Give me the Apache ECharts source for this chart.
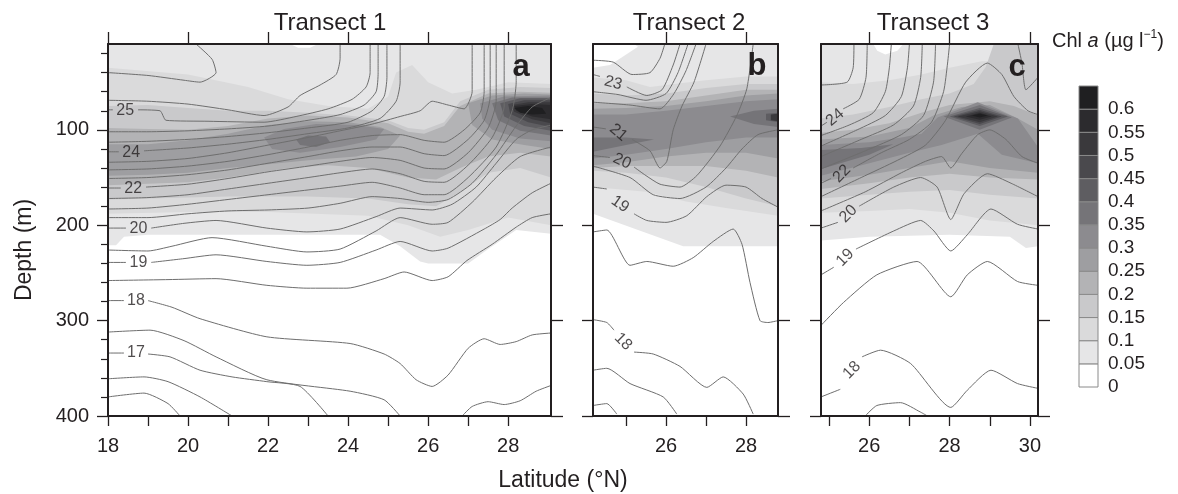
<!DOCTYPE html>
<html><head><meta charset="utf-8">
<script src="https://cdn.jsdelivr.net/npm/echarts/dist/echarts.min.js"></script>
<style>html,body{margin:0;padding:0;background:#fff}#c{width:1178px;height:494px}</style>
</head><body><div id="c"></div>
<script>
// ================= DATA =================
const CHL_LEVELS = [0,0.05,0.1,0.15,0.2,0.25,0.3,0.35,0.4,0.45,0.5,0.55,0.6];
const CHL_LABELS = [0,0.05,0.1,0.15,0.2,0.25,0.3,0.35,0.4,0.45,0.5,0.55,0.6];
const PANEL_TITLES = ['Transect 1','Transect 2','Transect 3'];
const PANEL_LETTERS = ['a','b','c'];
const DEPTH_RANGE = [10,400];
const DEPTH_TICKS = [100,200,300,400];
const DEPTH_MINOR = [20,40,60,80,120,140,160,180,220,240,260,280,320,340,360,380];
const DEPTH_LABELS = [100,200,300,400];
const P1_LAT_RANGE = [18,29.07];
const P2_LAT_RANGE = [24.175,28.8];
const P3_LAT_RANGE = [24.8,30.2];
const P1_XTICKS = [18,19,20,21,22,23,24,25,26,27,28];
const P1_XLABELS = [18,20,22,24,26,28];
const P1_TOPTICKS = [18,20,22,24,26,28];
const P2_XTICKS = [25,26,27,28];
const P2_XLABELS = [26,28];
const P2_TOPTICKS = [26,28];
const P3_XTICKS = [25,26,27,28,29,30];
const P3_XLABELS = [26,28,30];
const P3_TOPTICKS = [26,28,30];

// filled chlorophyll regions: [level (region where Chl >= level), [[lat, depth], ...]]
const P1_FILLS = [
  [0.05,[[18,10],[29.07,10],[29.07,209],[28.2,205],[27.5,225],[27,240],[26,240],[25.8,238],[25.3,222],[24.8,210],[22,210],[19,210],[18.4,212],[18.2,221],[18,221]]],
  [0,[[22.55,10],[23.25,10],[23.05,14],[22.75,14]]],
  [0.1,[[18,35],[20,42],[21.5,55],[22.5,68],[23.5,75],[24.5,78],[25,65],[25.2,40],[25.6,32],[26,50],[26.6,62],[27.2,58],[28,50],[29.07,52],[29.07,200],[28,192],[27,205],[26.3,212],[25.5,200],[24.5,190],[22,186],[20,186],[18,188]]],
  [0.15,[[18,75],[19,74],[20,77],[21,80],[22,80],[23,82],[24,85],[25,90],[25.5,98],[25.9,100],[26.4,92],[26.8,70],[27.5,58],[28.3,55],[29.07,56],[29.07,150],[28.3,140],[27.5,145],[26.8,165],[26.2,180],[25.5,178],[24.5,172],[23,170],[21,170],[19,172],[18,173]]],
  [0.2,[[18,98],[19,99],[20,100],[21,96],[22,88],[23,85],[24,87],[25,93],[25.5,102],[25.9,104],[26.4,96],[26.8,75],[27.5,62],[28.3,60],[29.07,61],[29.07,128],[28.3,124],[27.5,128],[26.8,140],[26.2,152],[25.5,150],[24.5,140],[23.5,137],[22.5,140],[21,150],[20,155],[18,158]]],
  [0.25,[[18,115],[19,115],[20,111],[21,104],[22,95],[23,91],[24,92],[24.8,97],[25.3,106],[25,120],[24.2,128],[23,132],[22,136],[21,140],[20,145],[19,147],[18,148]]],
  [0.25,[[27,72],[27.6,64],[28.4,62],[29.07,63],[29.07,120],[28.4,116],[27.6,110],[27.1,95]]],
  [0.3,[[21.9,108],[22.4,99],[23.2,94],[24.2,95],[24.9,99],[24.7,110],[23.8,118],[22.8,124],[22.1,120]]],
  [0.3,[[27.3,72],[27.9,65],[29.07,64],[29.07,112],[28.3,109],[27.6,100],[27.35,88]]],
  [0.35,[[22.7,110],[23,106],[23.45,107],[23.55,113],[23.2,118],[22.8,116]]],
  [0.35,[[27.6,72],[28.1,66],[29.07,66],[29.07,106],[28.3,101],[27.75,90]]],
  [0.4,[[27.8,72],[28.3,67],[29.07,67],[29.07,101],[28.4,96],[27.9,86]]],
  [0.45,[[28,73],[28.4,69],[29.07,69],[29.07,97],[28.5,92],[28.05,83]]],
  [0.5,[[28.1,74],[28.5,71],[29.07,71],[29.07,93],[28.6,89],[28.15,81]]],
  [0.55,[[28.15,75],[28.6,73],[29.07,74],[29.07,89],[28.6,86],[28.2,80]]],
  [0.6,[[28.15,77],[28.5,75],[28.85,77],[28.95,83],[28.6,84],[28.3,82]]]
];
const P2_FILLS = [
  [0.05,[[24.175,10],[28.8,10],[28.8,222],[26.43,222],[24.175,188]]],
  [0,[[24.175,10],[25.2,10],[25.3,13],[24.9,24],[24.6,32],[24.175,35]]],
  [0.1,[[24.175,45],[25,48],[25.6,55],[26.2,52],[27,48],[28,44],[28.8,44],[28.8,190],[27.5,182],[26.5,175],[25.5,165],[24.175,160]]],
  [0.15,[[24.175,62],[25,64],[26,62],[27,56],[28,52],[28.8,52],[28.8,180],[28,172],[27,160],[26,150],[25,145],[24.175,143]]],
  [0.2,[[24.175,72],[25,72],[26,70],[27,64],[28,58],[28.8,58],[28.8,150],[28,143],[27,138],[26,138],[25,138],[24.175,140]]],
  [0.25,[[24.175,78],[25,77],[26,75],[27,70],[28,64],[28.8,62],[28.8,130],[28,124],[27,124],[26,128],[25,134],[24.175,137]]],
  [0.3,[[24.175,84],[25,84],[26,80],[27,75],[28,70],[28.8,68],[28.8,108],[28,108],[27,113],[26,120],[25,126],[24.175,130]]],
  [0.35,[[24.175,108],[25,108],[25.7,110],[25,116],[24.175,123]]],
  [0.35,[[27.6,86],[28.2,80],[28.8,78],[28.8,97],[28.2,94]]],
  [0.4,[[28.5,83],[28.8,82],[28.8,92],[28.5,90]]],
  [0.5,[[28.62,84],[28.8,83],[28.8,91],[28.62,90]]]
];
const P3_FILLS = [
  [0.05,[[24.8,10],[30.2,10],[30.2,222],[29.9,224],[29.5,212],[28,210],[26,212],[24.8,216]]],
  [0,[[26.1,10],[26.85,10],[26.7,17],[26.4,21],[26.2,17]]],
  [0.1,[[24.8,50],[25.6,52],[26.5,48],[27.3,42],[28,35],[28.8,28],[30.2,28],[30.2,200],[29,195],[28,187],[27,183],[26,185],[24.8,187]]],
  [0.15,[[24.8,88],[25.6,84],[26.5,76],[27.3,68],[28,62],[28.6,52],[28.9,34],[29.1,10],[30.2,10],[30.2,172],[29,168],[28,163],[27,165],[26,168],[24.8,172]]],
  [0.2,[[24.8,103],[25.6,100],[26.5,93],[27.3,82],[28,74],[29,70],[29.6,75],[30.2,85],[30.2,152],[29,150],[28,146],[27,150],[26,156],[24.8,162]]],
  [0.25,[[24.8,110],[26,107],[27,98],[27.6,85],[28.3,76],[29,74],[29.7,88],[30.2,100],[30.2,145],[29,140],[28,133],[27,140],[26,147],[24.8,154]]],
  [0.3,[[24.8,116],[26,113],[26.8,108],[27.3,104],[27.7,87],[28.7,71],[29.7,88],[30.2,118],[30.2,135],[29.3,126],[28.7,104],[27.8,116],[27,124],[26,135],[24.8,148]]],
  [0.35,[[24.8,121],[25.8,119],[26.6,115],[26,126],[24.8,141]]],
  [0.35,[[27.85,86],[28.75,74],[29.55,87],[28.75,100]]],
  [0.4,[[28,86],[28.75,77],[29.45,86],[28.75,96]]],
  [0.45,[[28.1,86],[28.75,79],[29.3,86],[28.75,94]]],
  [0.5,[[28.2,86],[28.75,80.5],[29.2,86],[28.75,92]]],
  [0.55,[[28.4,86],[28.75,82],[29.05,86],[28.75,89.5]]],
  [0.6,[[28.55,85],[28.75,83],[28.95,85],[28.75,87]]]
];

// isotherms: [lat, depth] points, null = gap for the inline label
const P1_ISOTHERMS = [
  [[18,40],[19,43],[19.9,48],[20.3,50],[20.7,40],[20.6,26],[20.2,10]],
  [[18,69],[19,70],[20,73],[21,79],[21.9,85],[22.5,76],[22.8,64],[23.3,53],[23.7,42],[23.8,25],[23.8,10]],
  [[18,79],[18.12,79],null,[18.75,79],[19.3,80],[19.45,90],[20.5,91],[21.9,92],[22.7,86],[23.5,78],[24.1,68],[24.45,55],[24.55,40],[24.55,10]],
  [[18,102],[19,102],[20,101],[21,99],[22,96],[23,90],[23.8,84],[24.4,74],[24.7,60],[24.75,40],[24.75,10]],
  [[18,113],[19,112],[20,110],[21,107],[22,103],[23,98],[24,92],[24.6,80],[24.9,65],[24.97,45],[24.97,10]],
  [[18,123],[18.27,123],null,[18.9,122],[20,119],[21,115],[22,110],[23,104],[24,98],[24.8,88],[25.2,70],[25.3,50],[25.3,10]],
  [[18,134],[19,133],[20,130],[21,124],[22,116],[23,108],[23.8,101],[24.6,94],[25.3,86],[25.8,80],[26.1,70],[26.5,74],[26.9,78],[27.1,60],[27.1,10]],
  [[18,142],[19,141],[20,138],[21,133],[22,126],[23,118],[23.8,111],[24.6,106],[25.3,105],[25.9,111],[26.4,113],[26.9,100],[27.3,82],[27.4,60],[27.4,10]],
  [[18,151],[19,150],[20,147],[21,142],[22,135],[23,128],[23.8,122],[24.6,118],[25.3,118],[25.9,125],[26.4,127],[27,110],[27.4,90],[27.55,65],[27.55,10]],
  [[18,161],[18.32,161],null,[18.95,160],[20,157],[21,151],[22,144],[23,138],[23.8,133],[24.6,129],[25.3,132],[25.9,140],[26.4,141],[27,124],[27.5,98],[27.7,70],[27.7,10]],
  [[18,172],[19,171],[20,168],[21,162],[22,156],[23,150],[23.8,145],[24.6,141],[25.3,146],[25.9,154],[26.4,155],[27,137],[27.6,108],[27.9,75],[27.9,10]],
  [[18,183],[19,182],[20,178],[21,173],[22,168],[23,163],[23.8,159],[24.6,155],[25.3,161],[25.9,168],[26.4,168],[27,150],[27.7,118],[28.1,80],[28.2,50],[28.2,10]],
  [[18,192],[19,192],[20,188],[21,185],[22,184],[23,182],[23.8,177],[24.6,170],[25.3,172],[26,176],[26.5,173],[27.1,156],[27.7,126],[28.2,96],[28.6,76],[29.07,66]],
  [[18,203],[18.45,203],null,[19.08,203],[19.9,198],[20.7,195],[21.97,203],[22.97,207],[23.8,204],[24.7,191],[25.3,182],[26.1,184],[26.6,178],[27.2,160],[27.7,135],[28.2,110],[28.6,100],[29.07,95]],
  [[18,226],[19,227],[19.6,222],[20.6,213],[21.97,222],[22.97,228],[23.8,225],[24.7,206],[25.3,192],[26.1,199],[26.5,197],[27.1,176],[27.7,150],[28.3,128],[29.07,118]],
  [[18,239],[18.45,239],null,[19.08,239],[19.9,235],[20.7,231],[21.97,238],[22.97,242],[23.8,239],[24.7,226],[25.3,217],[26.1,227],[26.5,224],[27.4,204],[27.8,194],[28.1,182],[28.6,166],[29.07,156]],
  [[18,258],[19.5,257],[20.7,256],[21.97,263],[22.97,266],[23.97,266],[24.9,256],[25.4,249],[26.1,258],[26.5,254],[26.97,237],[27.6,220],[28.2,202],[28.6,192],[29.07,188]],
  [[18,279],[18.4,279],null,[19.0,279],[19.6,286],[20.3,298],[21.97,317],[24.05,324],[24.9,335],[25.3,345],[25.7,362],[26.1,369],[26.5,357],[27,329],[27.4,319],[27.8,325],[28.2,322],[28.6,315],[29.07,313]],
  [[18,312],[19.05,310],[19.9,321],[20.7,338],[21.97,362],[24.05,374],[24.9,383],[25.3,400]],
  [[26.85,400],[27.1,390],[27.5,385],[27.9,388],[28.3,384],[28.7,374],[29.07,368]],
  [[18,334],[18.4,334],null,[19.0,335],[19.55,338],[20.3,352],[21.1,359],[21.97,364],[22.8,369],[23.5,400]],
  [[18,361],[18.9,359],[19.5,364],[20.3,380],[21.1,400]],
  [[18,380],[18.9,376],[19.5,387],[19.8,400]]
];
const P2_ISOTHERMS = [
  [[24.175,27],[24.68,29],[25.15,42],[25.6,40],[25.85,25],[25.97,10]],
  [[24.175,42],[24.35,44],null,[25.02,55],[25.52,64],[25.9,58],[26.18,32],[26.35,10]],
  [[24.175,60],[24.8,63],[25.5,69],[26,62],[26.3,40],[26.55,10]],
  [[24.175,71],[25.1,74],[25.85,78],[26.2,62],[26.5,38],[26.75,10]],
  [[24.175,97],[24.5,99],null,[25.15,110],[25.6,122],[25.85,140],[26.02,133],[26.18,100],[26.4,75],[26.7,50],[27,10]],
  [[24.175,127],[24.6,129],null,[25.2,139],[25.5,148],[25.85,157],[26.35,160],[26.77,148],[27.35,117],[27.77,85],[28.02,57],[28.18,10]],
  [[24.175,138],[25.1,150],[25.68,168],[26.35,172],[27,160],[27.5,140],[27.9,120],[28.3,105],[28.8,100]],
  [[24.175,160],[24.52,162],null,[25.2,188],[25.52,195],[26,197],[26.52,190],[27.02,170],[27.5,158],[28,160],[28.4,172],[28.8,181]],
  [[24.175,207],[24.52,205],[25.1,242],[25.52,238],[26.18,243],[26.68,234],[27.18,217],[27.68,204],[27.9,220],[28.1,260],[28.35,300],[28.55,302],[28.8,300]],
  [[24.175,299],[24.52,302],[24.7,310],null,[25.2,333],[25.68,335],[26.35,348],[27.02,370],[27.43,359],[27.93,377],[28.18,398]],
  [[24.175,352],[24.52,350],[25.1,366],[25.93,380],[26.27,398]],
  [[24.175,389],[24.52,387],[24.77,398]]
];
const P3_ISOTHERMS = [
  [[24.8,53],[25.45,50],[25.6,35],[25.62,10]],
  [[24.8,96],[24.95,92],null,[25.35,78],[25.75,68],[25.92,45],[25.95,10]],
  [[24.8,106],[25.5,95],[26.1,82],[26.4,60],[26.5,35],[26.55,10]],
  [[24.8,117],[25.7,100],[26.4,85],[26.8,65],[26.95,35],[27,10]],
  [[24.8,128],[25.8,110],[26.6,95],[27.1,75],[27.28,45],[27.32,10]],
  [[24.8,141],[25.9,122],[26.8,105],[27.35,85],[27.6,50],[27.65,10]],
  [[24.8,156],[25.05,151],null,[25.6,140],[26.3,124],[27,110],[27.55,92],[27.85,60],[27.95,30],[28,10]],
  [[24.8,170],[25.8,150],[26.7,132],[27.4,116],[27.9,90],[28.4,50],[28.94,30],[29.3,42],[29.6,65],[29.95,80],[30.2,84]],
  [[24.8,185],[25.9,165],[26.8,145],[27.4,133],[27.8,128],[28.03,140],[28.3,125],[28.7,105],[29,100],[29.4,110],[29.8,128],[30.2,135]],
  [[24.8,203],[25.22,197],null,[25.75,180],[26.61,160],[27.28,150],[27.69,160],[28.03,194],[28.36,167],[28.94,146],[29.53,156],[30.2,170]],
  [[24.8,252],[25.12,244],null,[25.67,225],[26.61,206],[27.28,195],[27.61,206],[28.03,227],[28.44,210],[29.03,183],[29.69,199],[30.2,204]],
  [[24.8,305],[25.36,281],[26.19,252],[27.19,238],[28.03,275],[28.44,252],[28.94,238],[29.69,259],[30.2,263]],
  [[24.8,380],[25.28,372],null,[25.82,338],[26.28,331],[27.03,345],[28.03,391],[28.44,373],[29.03,352],[29.69,366],[30.2,371]],
  [[25.9,400],[26.19,389],[26.78,386],[27.28,396],[27.45,400]],
  [[29.7,10],[29.8,30],[29.9,58],[30.2,45]]
];
// isotherm labels: [lat, depth, text]
const P1_LABELS = [[18.43,80,'25'],[18.58,124,'24'],[18.63,162,'22'],[18.76,204,'20'],[18.76,239,'19'],[18.7,279,'18'],[18.7,334,'17']];
const P2_LABELS = [[24.68,51,'23'],[24.81,103,'21'],[24.9,133,'20'],[24.85,178,'19'],[24.93,322,'18']];
const P3_LABELS = [[25.15,87,'24'],[25.32,146,'22'],[25.48,188,'20'],[25.4,234,'19'],[25.57,352,'18']];

// ================= STYLE / LAYOUT =================
const FONT = "'Liberation Sans', Arial, Helvetica, sans-serif";
const INK = '#231f20';
const PALETTE = ['#ffffff','#e6e6e7','#dadadb','#c9c9cb','#b3b3b5','#9e9ea1','#8c8b8f','#757478','#5e5d61','#4a494d','#3a393c','#2c2b2e','#1f1f21'];
const colorOf = l => PALETTE[Math.round(l / 0.05)];
const LABEL_ROT = [[0,0,0,0,0,0,0],[-15,-40,-25,-35,-45],[40,45,45,45,45]];
const PANELS = [
  {left:108, width:443, xr:P1_LAT_RANGE, xt:P1_XTICKS, xl:P1_XLABELS, tt:P1_TOPTICKS, fills:P1_FILLS, iso:P1_ISOTHERMS, labels:P1_LABELS},
  {left:593, width:185, xr:P2_LAT_RANGE, xt:P2_XTICKS, xl:P2_XLABELS, tt:P2_TOPTICKS, fills:P2_FILLS, iso:P2_ISOTHERMS, labels:P2_LABELS},
  {left:821, width:217, xr:P3_LAT_RANGE, xt:P3_XTICKS, xl:P3_XLABELS, tt:P3_TOPTICKS, fills:P3_FILLS, iso:P3_ISOTHERMS, labels:P3_LABELS}
];
const TOP = 44, HEIGHT = 372;

const grid = [], xAxis = [], yAxis = [], series = [];
const axLine = {show:true, onZero:false, lineStyle:{color:INK, width:2}};
PANELS.forEach((p, i) => {
  grid.push({left:p.left, top:TOP, width:p.width, height:HEIGHT, containLabel:false});
  const xb = xAxis.length;
  xAxis.push({type:'value', gridIndex:i, min:p.xr[0], max:p.xr[1], position:'bottom', z:10,
    axisLine:axLine,
    axisTick:{show:true, inside:false, length:10, customValues:p.xt, lineStyle:{color:INK, width:1.3}},
    axisLabel:{show:true, customValues:p.xl, margin:20, fontSize:20, color:INK, fontFamily:FONT},
    splitLine:{show:false}});
  xAxis.push({type:'value', gridIndex:i, min:p.xr[0], max:p.xr[1], position:'top', z:10,
    axisLine:axLine,
    axisTick:{show:true, inside:false, length:12, customValues:p.tt, lineStyle:{color:INK, width:1.3}},
    axisLabel:{show:false}, splitLine:{show:false}});
  const yl = yAxis.length;
  yAxis.push({type:'value', gridIndex:i, min:DEPTH_RANGE[0], max:DEPTH_RANGE[1], inverse:true, position:'left', z:10,
    axisLine:axLine,
    axisTick:{show:true, inside:false, length:11, customValues:DEPTH_TICKS, lineStyle:{color:INK, width:1.3}},
    axisLabel:{show:i === 0, customValues:DEPTH_LABELS, margin:19, fontSize:20, color:INK, fontFamily:FONT},
    splitLine:{show:false}});
  yAxis.push({type:'value', gridIndex:i, min:DEPTH_RANGE[0], max:DEPTH_RANGE[1], inverse:true, position:'right', z:10,
    axisLine:axLine,
    axisTick:{show:true, inside:false, length:12, customValues:DEPTH_TICKS, lineStyle:{color:INK, width:1.3}},
    axisLabel:{show:false}, splitLine:{show:false}});
  if (i === 0) {
    yAxis.push({type:'value', gridIndex:i, min:DEPTH_RANGE[0], max:DEPTH_RANGE[1], inverse:true, position:'left', z:10,
      axisLine:{show:false},
      axisTick:{show:true, inside:false, length:7, customValues:DEPTH_MINOR, lineStyle:{color:INK, width:1.2}},
      axisLabel:{show:false}, splitLine:{show:false}});
  }
  // filled Chl a regions
  series.push({type:'custom', xAxisIndex:xb, yAxisIndex:yl, clip:true, z:1, silent:true, animation:false,
    data:p.fills.map(f => [f[1][0][0], f[1][0][1]]),
    renderItem:(params, api) => {
      const f = p.fills[params.dataIndex];
      return {type:'polygon', shape:{points:f[1].map(q => api.coord(q))},
              style:{fill:colorOf(f[0]), stroke:null, lineWidth:0}};
    }});
  // isotherms
  p.iso.forEach(line => {
    let seg = [];
    const segs = [];
    line.forEach(pt => { if (pt === null) { if (seg.length) segs.push(seg); seg = []; } else seg.push(pt); });
    if (seg.length) segs.push(seg);
    segs.forEach(s => series.push({type:'line', xAxisIndex:xb, yAxisIndex:yl, data:s, symbol:'none',
      showSymbol:false, smooth:0.2, clip:true, z:3, silent:true, animation:false,
      lineStyle:{color:'#6e6e6e', width:1}}));
  });
  // isotherm labels
  series.push({type:'scatter', xAxisIndex:xb, yAxisIndex:yl, symbolSize:0, z:4, silent:true, animation:false,
    data:p.labels.map((l, k) => ({value:l, label:{rotate:LABEL_ROT[i][k]}})),
    label:{show:true, position:'inside', formatter:q => q.value[2], fontSize:16, color:INK, fontFamily:FONT}});
});

// colour bar
const cb = PANELS.length;
grid.push({left:1079, top:86, width:19, height:301});
xAxis.push({type:'value', gridIndex:cb, min:0, max:1, show:false});
yAxis.push({type:'value', gridIndex:cb, min:0, max:0.65, position:'right',
  axisLine:{show:false}, axisTick:{show:false}, splitLine:{show:false},
  axisLabel:{show:true, customValues:CHL_LABELS, margin:10, fontSize:19, color:INK, fontFamily:FONT,
    formatter:v => String(Math.round(v * 100) / 100)}});
series.push({type:'custom', xAxisIndex:xAxis.length - 1, yAxisIndex:yAxis.length - 1, z:2, silent:true, animation:false,
  data:CHL_LEVELS.map(l => [0, l]),
  renderItem:(params, api) => {
    const l = api.value(1);
    const a = api.coord([0, l]), b = api.coord([1, l + 0.05]);
    return {type:'rect', shape:{x:a[0], y:b[1], width:b[0] - a[0], height:a[1] - b[1]},
            style:{fill:colorOf(l), stroke:'#8a8a8a', lineWidth:1}};
  }});

const txt = (text, x, y, font, extra) => Object.assign({type:'text', x, y, silent:true, z:20,
  style:{text, font:font, fill:INK, align:'center', verticalAlign:'middle',
         textAlign:'center', textVerticalAlign:'middle'}}, extra || {});
const graphic = [
  txt(PANEL_TITLES[0], 330, 23, '24px ' + FONT),
  txt(PANEL_TITLES[1], 689, 23, '24px ' + FONT),
  txt(PANEL_TITLES[2], 933, 23, '24px ' + FONT),
  txt(PANEL_LETTERS[0], 521, 67, 'bold 31px ' + FONT),
  txt(PANEL_LETTERS[1], 757, 66, 'bold 31px ' + FONT),
  txt(PANEL_LETTERS[2], 1017, 67, 'bold 31px ' + FONT),
  txt('Depth (m)', 25, 250, '23px ' + FONT, {rotation:Math.PI / 2}),
  txt('Latitude (°N)', 563, 481, '23px ' + FONT),
  {type:'text', x:1052, y:41, silent:true, z:20,
   style:{text:'{n|Chl }{i|a}{n| (µg l}{s|−1}{n|)}', fill:INK, align:'left', verticalAlign:'middle',
     rich:{n:{fontSize:20, fontFamily:FONT, fill:INK, lineHeight:24},
           i:{fontSize:20, fontFamily:FONT, fontStyle:'italic', fill:INK, lineHeight:24},
           s:{fontSize:12, fontFamily:FONT, fill:INK, lineHeight:14, verticalAlign:'top'}}}}
];

const chart = echarts.init(document.getElementById('c'), null, {renderer:'canvas'});
chart.setOption({animation:false, backgroundColor:'#ffffff', grid, xAxis, yAxis, series, graphic});
</script>
</body></html>
